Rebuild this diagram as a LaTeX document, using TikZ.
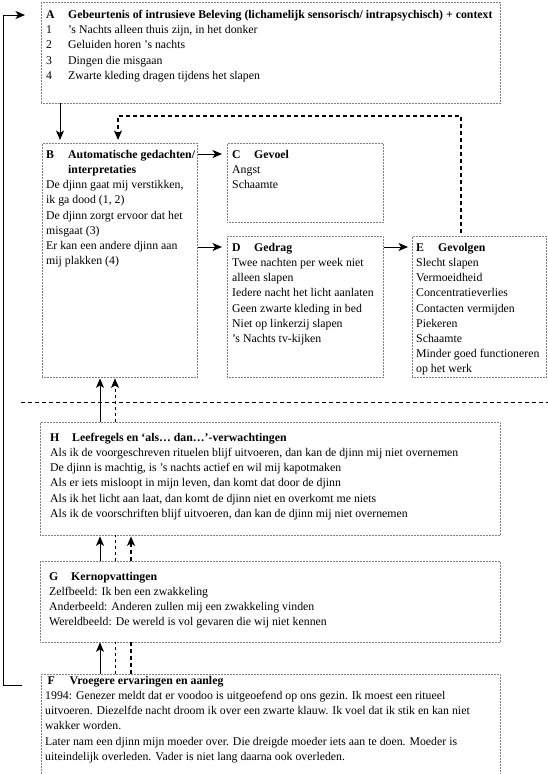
\documentclass[tikz,border=0pt]{standalone}
\usepackage{fontspec}
\setmainfont{Liberation Serif}
\usetikzlibrary{arrows.meta, positioning}
\newlength{\lbw}\setlength{\lbw}{22pt}
\newcommand{\hd}[2]{\strut\makebox[\lbw][l]{\textbf{#1}}\textbf{#2}}
\newcommand{\nr}[1]{\makebox[\lbw][l]{#1}}
\tikzset{
  box/.style ={rectangle, draw=black!50, line width=0.4pt, dash pattern=on 0.4pt off 1.1pt, anchor=north west, inner sep=0pt},
  txt/.style ={anchor=north west, align=left, inner sep=0pt, font=\fontsize{11.8}{15.2}\selectfont},
  fl/.style  ={-{Stealth[length=9.5pt, width=8pt, inset=2.5pt]}, line width=0.9pt},
  dfl/.style ={fl, line width=1.2pt, dash pattern=on 4pt off 3pt},
  dln/.style ={line width=1.2pt, dash pattern=on 4pt off 3pt},
  thn/.style ={line width=0.6pt, dash pattern=on 3pt off 3pt},
  sep/.style ={line width=0.7pt, dash pattern=on 4pt off 3pt},
}
\begin{document}
\begin{tikzpicture}[x=1pt, y=1pt]
  \useasboundingbox (0,0) rectangle (548,-774);
  % boxes
  \node[box, minimum width=459pt, minimum height=101pt] (A) at (41,-2) {};
  \node[box, minimum width=155pt, minimum height=234pt] (B) at (42,-143) {};
  \node[box, minimum width=156pt, minimum height=79pt]  (C) at (227,-143) {};
  \node[box, minimum width=156pt, minimum height=141pt] (D) at (227,-236) {};
  \node[box, minimum width=134pt, minimum height=141pt] (E) at (412,-236) {};
  \node[box, minimum width=460pt, minimum height=113pt] (H) at (40,-422) {};
  \node[box, minimum width=460pt, minimum height=81pt]  (G) at (40,-561) {};
  \node[box, minimum width=459pt, minimum height=102pt] (F) at (41,-674) {};
  % texts
  \node[txt] (Atxt) at ([shift={(5pt,-5.7pt)}]A.north west) {%
    \hd{A}{Gebeurtenis of intrusieve Beleving (lichamelijk sensorisch/ intrapsychisch) + context}\\
    \nr{1}’s Nachts alleen thuis zijn, in het donker\\
    \nr{2}Geluiden horen ’s nachts\\
    \nr{3}Dingen die misgaan\\
    \nr{4}Zwarte kleding dragen tijdens het slapen};
  \node[txt] (Btxt) at ([shift={(4pt,-4.4pt)}]B.north west) {%
    \hd{B}{Automatische gedachten/}\\
    \hspace*{\lbw}\textbf{interpretaties}\\
    De djinn gaat mij verstikken,\\
    ik ga dood (1, 2)\\
    De djinn zorgt ervoor dat het\\
    misgaat (3)\\
    Er kan een andere djinn aan\\
    mij plakken (4)};
  \node[txt] (Ctxt) at ([shift={(5pt,-4.4pt)}]C.north west) {%
    \hd{C}{Gevoel}\\
    Angst\\
    Schaamte};
  \node[txt] (Dtxt) at ([shift={(5pt,-4.4pt)}]D.north west) {%
    \hd{D}{Gedrag}\\
    Twee nachten per week niet\\
    alleen slapen\\
    Iedere nacht het licht aanlaten\\
    Geen zwarte kleding in bed\\
    Niet op linkerzij slapen\\
    ’s Nachts tv-kijken};
  \node[txt] (Etxt) at ([shift={(4pt,-4.4pt)}]E.north west) {%
    \hd{E}{Gevolgen}\\
    Slecht slapen\\
    Vermoeidheid\\
    Concentratieverlies\\
    Contacten vermijden\\
    Piekeren\\
    Schaamte\\
    Minder goed functioneren\\
    op het werk};
  \node[txt] (Htxt) at ([shift={(10pt,-8.4pt)}]H.north west) {%
    \hd{H}{Leefregels en ‘als… dan…’-verwachtingen}\\
    Als ik de voorgeschreven rituelen blijf uitvoeren, dan kan de djinn mij niet overnemen\\
    De djinn is machtig, is ’s nachts actief en wil mij kapotmaken\\
    Als er iets misloopt in mijn leven, dan komt dat door de djinn\\
    Als ik het licht aan laat, dan komt de djinn niet en overkomt me niets\\
    Als ik de voorschriften blijf uitvoeren, dan kan de djinn mij niet overnemen};
  \node[txt] (Gtxt) at ([shift={(9pt,-8.4pt)}]G.north west) {%
    \hd{G}{Kernopvattingen}\\
    Zelfbeeld: Ik ben een zwakkeling\\
    Anderbeeld: Anderen zullen mij een zwakkeling vinden\\
    Wereldbeeld: De wereld is vol gevaren die wij niet kennen};
  \node[txt] (Ftxt) at ([shift={(4pt,0.6pt)}]F.north west) {%
    \hspace*{2.5pt}\hd{F}{Vroegere ervaringen en aanleg}\\
    1994: Genezer meldt dat er voodoo is uitgeoefend op ons gezin. Ik moest een ritueel\\
    uitvoeren. Diezelfde nacht droom ik over een zwarte klauw. Ik voel dat ik stik en kan niet\\
    wakker worden.\\
    Later nam een djinn mijn moeder over. Die dreigde moeder iets aan te doen. Moeder is\\
    uiteindelijk overleden. Vader is niet lang daarna ook overleden.};
  % separator
  \draw[sep] (21,-402) -- (548,-402);
  % top connectors
  \draw[fl, shorten >=3pt] ([xshift=19pt]A.south west) -- ([xshift=19pt]A.south west |- B.north);
  \draw[dfl, shorten <=3pt, shorten >=3pt] ([xshift=49pt]E.north west) -- ++(0,120) -| ([xshift=76pt]B.north west);
  \draw[fl, shorten <=1pt, shorten >=5pt] ([yshift=-11pt]C.north west -| B.east) -- ([yshift=-11pt]C.north west);
  \draw[fl, shorten <=1pt, shorten >=5pt] ([yshift=-11pt]D.north west -| B.east) -- ([yshift=-11pt]D.north west);
  \draw[fl, shorten <=1pt, shorten >=4pt] ([yshift=-11pt]D.north east) -- ([yshift=-11pt]E.north west);
  % bottom connectors
  \draw[fl, shorten >=1pt] ([xshift=60pt]H.north west) -- ([xshift=60pt]H.north west |- B.south);
  \draw[thn, -{Stealth[length=9.5pt, width=8pt, inset=2.5pt]}, shorten >=1pt] ([xshift=75pt]H.north west) -- ([xshift=75pt]H.north west |- B.south);
  \draw[fl, shorten >=1pt] ([xshift=60pt]G.north west) -- ([xshift=60pt]G.north west |- H.south);
  \draw[thn] ([xshift=75pt]G.north west) -- ([xshift=75pt]G.north west |- H.south);
  \draw[dfl, shorten >=1pt] ([xshift=91pt]G.north west) -- ([xshift=91pt]G.north west |- H.south);
  \draw[fl] ([xshift=60pt]G.south west |- F.north) -- ([xshift=60pt]G.south west);
  \draw[thn] ([xshift=75pt]G.south west |- F.north) -- ([xshift=75pt]G.south west);
  \draw[dln] ([xshift=91pt]G.south west |- F.north) -- ([xshift=91pt]G.south west);
  % feedback loop
  \draw[fl] ([xshift=-19pt, yshift=-11pt]F.north west) -- ++(-19,0) |- ([xshift=-16pt, yshift=-13pt]A.north west);
\end{tikzpicture}
\end{document}
